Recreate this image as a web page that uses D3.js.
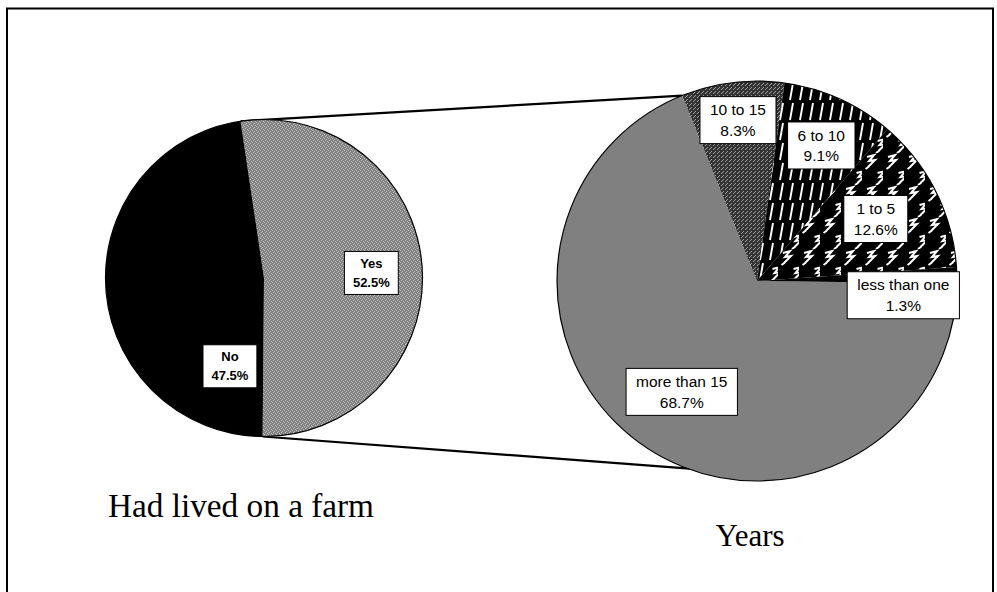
<!DOCTYPE html>
<html>
<head>
<meta charset="utf-8">
<script src="https://cdn.jsdelivr.net/npm/d3@7"></script>
<style>
  html, body { margin: 0; padding: 0; background: #fff; }
  svg { display: block; }
</style>
</head>
<body>
<svg id="chart" width="997" height="592"></svg>
<script>
// Share of respondents who had lived on a farm
const farmCategories = ["Yes", "No"];
const farmShares = [52.5, 47.5];

// Years lived on a farm (breakdown of "Yes")
const yearCategories = ["more than 15", "10 to 15", "6 to 10", "1 to 5", "less than one"];
const yearShares = [68.7, 8.3, 9.1, 12.6, 1.3];

const deg = Math.PI / 180;
const svg = d3.select("#chart");

// ---- fill patterns ----
const defs = svg.append("defs");

function pattern(id, w, h) {
  return defs.append("pattern").attr("id", id)
    .attr("patternUnits", "userSpaceOnUse").attr("width", w).attr("height", h);
}
// fine grey dither
{
  const p = pattern("dither", 4, 4);
  p.append("rect").attr("width", 4).attr("height", 4).attr("fill", "#808080");
  [[0,0],[2,1],[1,2],[3,3]].forEach(([x,y]) =>
    p.append("rect").attr("x", x).attr("y", y).attr("width", 1).attr("height", 1).attr("fill", "#c2c2c2"));
}
// dark dotted
{
  const p = pattern("darkdots", 4, 4);
  p.append("rect").attr("width", 4).attr("height", 4).attr("fill", "#333");
  [[0,0],[2,2],[1,3]].forEach(([x,y]) =>
    p.append("rect").attr("x", x).attr("y", y).attr("width", 1).attr("height", 1).attr("fill", "#a0a0a0"));
}
// slanted white stripes on black
{
  const p = pattern("stripes", 10, 20);
  p.append("rect").attr("width", 10).attr("height", 20).attr("fill", "#000");
  p.append("line").attr("x1", 3).attr("y1", 19).attr("x2", 6).attr("y2", 2)
    .attr("stroke", "#fff").attr("stroke-width", 1.9);
}
// white zigzag glyphs on black
{
  const p = pattern("zigzag", 21, 32);
  p.append("rect").attr("width", 21).attr("height", 32).attr("fill", "#000");
  const glyph = "M2,3 L9,1 L4,7 L10,6 L3,13 M0.5,15 L4,12.5";
  [[3,1],[13.5,17]].forEach(([x,y]) =>
    p.append("path").attr("d", glyph).attr("transform", `translate(${x},${y})`)
      .attr("fill", "none").attr("stroke", "#fff").attr("stroke-width", 2)
      .attr("stroke-linejoin", "miter"));
}

// ---- frame ----
svg.append("rect").attr("x", 7).attr("y", 8.5).attr("width", 986).attr("height", 600)
  .attr("fill", "none").attr("stroke", "#000").attr("stroke-width", 2);

// ---- geometry ----
const farm = { cx: 264, cy: 278, r: 158.5, start: -8.5 * deg };
const years = { cx: 757, cy: 281, r: 200, start: 90.7 * deg };

const farmFills = { "Yes": "url(#dither)", "No": "#000" };
const yearFills = {
  "more than 15": "#808080",
  "10 to 15": "url(#darkdots)",
  "6 to 10": "url(#stripes)",
  "1 to 5": "url(#zigzag)",
  "less than one": "#000"
};

// label placement: radial factor and angular nudge (degrees) from the slice middle
const farmLabelPos = { "Yes": { k: 0.678, da: 1.3 }, "No": { k: 0.597, da: -64.9 } };
const yearLabelPos = {
  "more than 15": { k: 0.67, da: -0.2 },
  "10 to 15": { k: 0.81, da: 0.3 },
  "6 to 10": { k: 0.75, da: 1.1 },
  "1 to 5": { k: 0.67, da: -0.9 },
  "less than one": { k: 0.735, da: 7.2 }
};

function layout(cats, vals, start) {
  return d3.pie().sort(null).value(d => d.v)
    .startAngle(start).endAngle(start + 2 * Math.PI)(cats.map((c, i) => ({ c, v: vals[i] })));
}
const farmArcs = layout(farmCategories, farmShares, farm.start);
const yearArcs = layout(yearCategories, yearShares, years.start);

const pt = (g, a, k = 1) => [g.cx + Math.sin(a) * g.r * k, g.cy - Math.cos(a) * g.r * k];

// ---- connector lines between the pies ----
const yesArc = farmArcs.find(d => d.data.c === "Yes");
const topYear = yearArcs.find(d => d.data.c === "10 to 15");
const lowerLinkAngle = 197 * deg;
const links = [
  [pt(farm, yesArc.startAngle), pt(years, topYear.startAngle)],
  [pt(farm, yesArc.endAngle), pt(years, lowerLinkAngle, 0.985)]
];
svg.append("g").selectAll("line").data(links).join("line")
  .attr("x1", d => d[0][0]).attr("y1", d => d[0][1])
  .attr("x2", d => d[1][0]).attr("y2", d => d[1][1])
  .attr("stroke", "#000").attr("stroke-width", 2.2);

// ---- pies ----
function drawPie(g, arcs, fills) {
  const arc = d3.arc().innerRadius(0).outerRadius(g.r);
  const grp = svg.append("g").attr("transform", `translate(${g.cx},${g.cy})`);
  grp.selectAll("path").data(arcs).join("path")
    .attr("d", arc).attr("fill", d => fills[d.data.c]);
  grp.append("circle").attr("r", g.r).attr("fill", "none")
    .attr("stroke", "#000").attr("stroke-width", 1.2);
}
drawPie(farm, farmArcs, farmFills);
drawPie(years, yearArcs, yearFills);

// ---- data labels ----
function drawLabels(g, arcs, placement, font, lineGap, padX, boxH, firstDy) {
  arcs.forEach(d => {
    const p = placement[d.data.c];
    const mid = (d.startAngle + d.endAngle) / 2 + p.da * deg;
    const [x, y] = pt(g, mid, p.k);
    const lg = svg.append("g").attr("transform", `translate(${x},${y})`);
    const box = lg.append("rect");
    const t = lg.append("text").attr("text-anchor", "middle")
      .style("font", font).attr("fill", "#000");
    t.append("tspan").attr("x", 0).attr("y", firstDy).text(d.data.c);
    t.append("tspan").attr("x", 0).attr("y", firstDy + lineGap).text(d.data.v.toFixed(1) + "%");
    const w = Math.max(...t.selectAll("tspan").nodes().map(n => n.getComputedTextLength())) + 2 * padX;
    box.attr("x", -w / 2).attr("y", -boxH / 2).attr("width", w).attr("height", boxH)
      .attr("fill", "#fff").attr("stroke", "#000").attr("stroke-width", 1);
  });
}
drawLabels(farm, farmArcs, farmLabelPos, "bold 13px 'Liberation Sans', Arial, sans-serif", 19, 8.5, 43, -5);
drawLabels(years, yearArcs, yearLabelPos, "15.5px 'Liberation Sans', Arial, sans-serif", 20.5, 10, 47, -4.8);

// ---- captions ----
svg.append("text").attr("x", 108).attr("y", 517)
  .style("font", "33px 'Liberation Serif', 'Times New Roman', serif")
  .attr("textLength", 266).attr("lengthAdjust", "spacingAndGlyphs")
  .text("Had lived on a farm");
svg.append("text").attr("x", 750).attr("y", 546).attr("text-anchor", "middle")
  .style("font", "31px 'Liberation Serif', 'Times New Roman', serif")
  .text("Years");
</script>
</body>
</html>
